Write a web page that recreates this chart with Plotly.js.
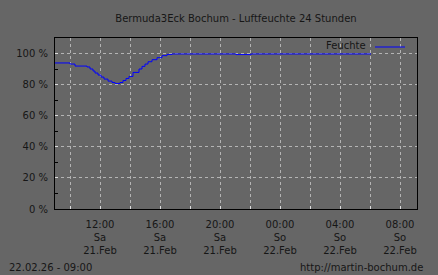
<!DOCTYPE html>
<html>
<head>
<meta charset="utf-8">
<script src="https://cdn.plot.ly/plotly-3.0.1.min.js"></script>
<style>html,body{margin:0;padding:0;background:#666666;}#chart{width:438px;height:275px;}</style>
</head>
<body>
<div id="chart"></div>
<script>
// Luftfeuchte (%) over 24 hours
const times = [
  '2026-02-21 09:00','2026-02-21 10:00','2026-02-21 10:20','2026-02-21 11:08',
  '2026-02-21 11:20','2026-02-21 11:32','2026-02-21 11:40','2026-02-21 11:52',
  '2026-02-21 12:04','2026-02-21 12:16','2026-02-21 12:32','2026-02-21 12:48',
  '2026-02-21 13:00','2026-02-21 13:20','2026-02-21 13:32','2026-02-21 13:44',
  '2026-02-21 13:56','2026-02-21 14:12','2026-02-21 14:36','2026-02-21 14:48',
  '2026-02-21 15:00','2026-02-21 15:12','2026-02-21 15:28','2026-02-21 15:48',
  '2026-02-21 16:08','2026-02-21 16:28','2026-02-21 16:48','2026-02-21 21:04',
  '2026-02-21 22:04','2026-02-22 06:04'
];
const humidity = [
  94.2, 93.5, 92.2, 91.6,
  90.3, 89.0, 87.7, 86.4,
  85.1, 83.8, 82.5, 81.6,
  81.0, 81.6, 82.9, 84.2,
  85.5, 88.1, 90.3, 92.0,
  93.5, 95.0, 96.3, 97.6,
  98.9, 99.7, 100.0, 99.6,
  100.0, 100.0
];
const seriesName = 'Feuchte';
const xTickVals = ['2026-02-21 12:00','2026-02-21 16:00','2026-02-21 20:00','2026-02-22 00:00','2026-02-22 04:00','2026-02-22 08:00'];
const xTickText = ['12:00<br>Sa<br>21.Feb','16:00<br>Sa<br>21.Feb','20:00<br>Sa<br>21.Feb','00:00<br>So<br>22.Feb','04:00<br>So<br>22.Feb','08:00<br>So<br>22.Feb'];
const yTickVals = [0, 20, 40, 60, 80, 100];
const yTickText = ['0 %', '20 %', '40 %', '60 %', '80 %', '100 %'];
const titleText = 'Bermuda3Eck Bochum - Luftfeuchte 24 Stunden';
const footLeft = '22.02.26 - 09:00';
const footRight = 'http://martin-bochum.de';

const font = {family: 'DejaVu Sans', size: 10, color: '#161616'};
const gridColor = '#b4b4b4';

const data = [{
  x: times, y: humidity, type: 'scatter', mode: 'lines',
  line: {color: '#0000ff', width: 1, shape: 'hv'},
  name: '', showlegend: true, hoverinfo: 'skip'
}];

const layout = {
  width: 438, height: 275,
  margin: {l: 55, r: 21, t: 38, b: 66, pad: 0},
  paper_bgcolor: '#666666', plot_bgcolor: '#666666',
  font: font,
  title: {text: titleText, font: font, x: 0.5, xref: 'paper', xanchor: 'center',
          y: 1 - 18/275, yref: 'container', yanchor: 'middle'},
  showlegend: true,
  legend: {x: (370-55)/362, xanchor: 'left', y: (209-32.5)/171, yanchor: 'top',
           bgcolor: 'rgba(0,0,0,0)', font: font, itemwidth: 30, borderwidth: 0},
  xaxis: {
    type: 'date',
    range: ['2026-02-21 09:00', '2026-02-22 09:08'],
    tickmode: 'array', tickvals: xTickVals, ticktext: xTickText,
    ticks: 'inside', ticklen: 3, tickcolor: '#dddddd', ticklabelstandoff: 6,
    showgrid: true, gridcolor: gridColor, griddash: 'dot', gridwidth: 1,
    minor: {dtick: 7200000, tick0: '2026-02-21 10:00', ticks: 'inside', ticklen: 3,
            tickcolor: '#dddddd', showgrid: true, gridcolor: gridColor, griddash: 'dot'},
    showline: true, linecolor: '#000000', linewidth: 1, mirror: true,
    zeroline: false, tickfont: font, fixedrange: true
  },
  yaxis: {
    range: [0, 110.3],
    tickmode: 'array', tickvals: yTickVals, ticktext: yTickText,
    ticks: 'inside', ticklen: 3, tickcolor: '#dddddd',
    showgrid: true, gridcolor: gridColor, griddash: 'dot', gridwidth: 1,
    minor: {dtick: 10, tick0: 0, ticks: 'inside', ticklen: 3, tickcolor: '#000000', showgrid: false},
    showline: true, linecolor: '#000000', linewidth: 1, mirror: true,
    zeroline: false, tickfont: font, fixedrange: true, ticklabelstandoff: 4
  },
  annotations: [
    {text: seriesName, xref: 'paper', yref: 'paper', x: (346-55)/362, y: (209-45.7)/171,
     xanchor: 'center', yanchor: 'middle', showarrow: false, font: font},
    {text: footLeft, xref: 'paper', yref: 'paper', x: (7-55)/362, y: (209-267.7)/171,
     xanchor: 'left', yanchor: 'middle', showarrow: false, font: font},
    {text: footRight, xref: 'paper', yref: 'paper', x: (425-55)/362, y: (209-267.7)/171,
     xanchor: 'right', yanchor: 'middle', showarrow: false, font: font}
  ]
};

Plotly.newPlot('chart', data, layout, {staticPlot: true, displayModeBar: false});
</script>
</body>
</html>
